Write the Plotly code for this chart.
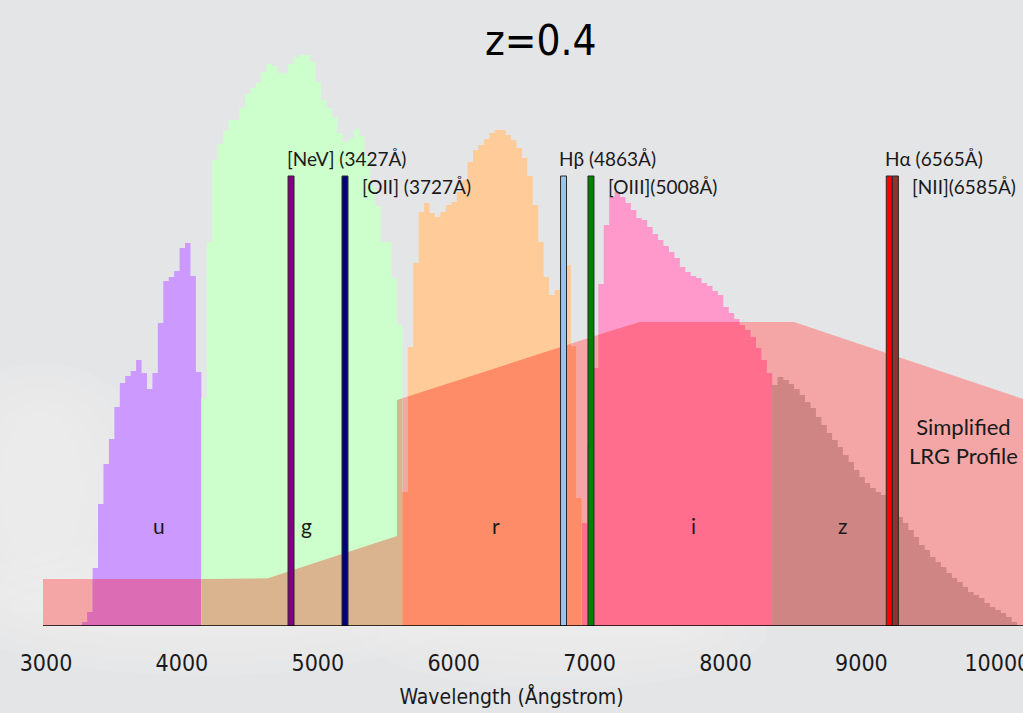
import numpy as np
import plotly.graph_objects as go

# ---------------- data ----------------
BIN_WIDTH = 40.0  # Angstrom per filter bin

u_start = 3263
u_vals = [4, 14, 58, 122, 162, 187, 219, 243, 250, 255, 266, 253, 237, 253,
          303, 345, 349, 355, 378, 383, 350, 254]

g_start = 4143
g_vals = [228, 384, 466, 482, 495, 506, 506, 518, 532, 538, 543, 554, 562, 560,
          553, 553, 562, 569, 571, 571, 564, 544, 526, 518, 509, 493, 484, 487,
          497, 490, 470, 440, 420, 384, 384, 348, 301]

r_start = 5622
r_vals = [134, 279, 363, 414, 423, 413, 409, 414, 421, 424, 434, 446, 464, 476,
          481, 487, 493, 496, 496, 491, 486, 478, 468, 450, 421, 384, 349, 331,
          336, 345, 361, 280, 128]

i_start = 6944
i_vals = [103, 180, 258, 342, 401, 429, 434, 429, 423, 416, 408, 406, 399, 392,
          386, 380, 374, 368, 359, 354, 350, 348, 343, 340, 335, 331, 319, 313,
          307, 301, 296, 289, 278, 266, 253]

z_start = 8344
z_vals = [241, 249, 246, 242, 237, 231, 224, 218, 209, 201, 193, 186, 179, 171,
          164, 156, 149, 143, 138, 134, 131, 125, 118, 109, 103, 96, 89, 81, 76,
          69, 64, 59, 53, 48, 44, 39, 34, 31, 28, 23, 19, 16, 13, 9, 4]

filter_names = ["u", "g", "r", "i", "z"]

# simplified LRG profile (piecewise linear, with 4000A break)
lrg_wave = [2978, 4617, 5583, 5583, 7356, 8504, 10189]
lrg_flux = [47, 47, 90, 226, 304, 304, 227]

# emission lines (observed wavelength at z=0.4)
line_labels = ["[NeV] (3427Å)", "[OII] (3727Å)", "Hβ (4863Å)",
               "[OIII](5008Å)", "Hα (6565Å)", "[NII](6585Å)"]
line_obs = [4803, 5200, 6808, 7010, 9205, 9250]
line_colors = ["#800080", "#000080", "#99C2EE", "#008000", "#FF0000", "#8E3232"]

x_ticks = [3000, 4000, 5000, 6000, 7000, 8000, 9000, 10000]

# ---------------- styling ----------------
alone_col = {"u": "#CC99FF", "g": "#CCFFCC", "r": "#FFCC99", "i": "#FF99CC", "z": "#D08585"}
over_col = {"u": "#DC6CB4", "g": "#DAB48F", "r": "#FF8C69", "i": "#FF6E8C", "z": "#D08585"}
lrg_col = "#F4A6A6"
BG = "#E4E5E7"
LABEL_FONT = "Lato, Open Sans, sans-serif"
COND_FONT = "DejaVu Sans Condensed, Liberation Sans Narrow, Roboto Condensed, Lato, sans-serif"

filters = {"u": (u_start, u_vals), "g": (g_start, g_vals), "r": (r_start, r_vals),
           "i": (i_start, i_vals), "z": (z_start, z_vals)}


def lrg_at(x):
    return np.interp(x, lrg_wave, lrg_flux, left=0.0, right=lrg_flux[-1])


def step_polygon(start, vals):
    xs, ys = [start], [0]
    for k, h in enumerate(vals):
        a = start + k * BIN_WIDTH
        b = a + BIN_WIDTH
        xs += [a, b]
        ys += [h, h]
    xs.append(start + len(vals) * BIN_WIDTH)
    ys.append(0)
    return xs, ys


def overlap_polygon(start, vals):
    xs, ys = [start], [0]
    for k, h in enumerate(vals):
        a = start + k * BIN_WIDTH
        b = a + BIN_WIDTH
        sx = np.linspace(a + 1e-3, b - 1e-3, 9)
        xs += list(sx)
        ys += list(np.minimum(h, lrg_at(sx)))
    xs.append(start + len(vals) * BIN_WIDTH)
    ys.append(0)
    return xs, ys


fig = go.Figure()

# LRG profile
lx = [lrg_wave[0]] + lrg_wave + [lrg_wave[-1]]
ly = [0] + lrg_flux + [0]
fig.add_trace(go.Scatter(x=lx, y=ly, fill="toself", fillcolor=lrg_col, mode="lines",
                         line=dict(width=0, color=lrg_col), name="Simplified LRG Profile",
                         hoverinfo="skip", showlegend=False))

for f in filter_names:
    st, vals = filters[f]
    xs, ys = step_polygon(st, vals)
    fig.add_trace(go.Scatter(x=xs, y=ys, fill="toself", fillcolor=alone_col[f], mode="lines",
                             line=dict(width=0, color=alone_col[f]), name=f,
                             hoverinfo="skip", showlegend=False))
    ox, oy = overlap_polygon(st, vals)
    fig.add_trace(go.Scatter(x=ox, y=oy, fill="toself", fillcolor=over_col[f], mode="lines",
                             line=dict(width=0, color=over_col[f]), name=f + " x LRG",
                             hoverinfo="skip", showlegend=False))

shapes = []
annotations = []

# soft cloud-like background patches
for cx0, cy0, cx1, cy1 in [(-0.08, 0.02, 0.16, 0.42), (-0.05, -0.08, 0.45, 0.14),
                           (0.35, -0.1, 0.75, 0.08)]:
    for s in range(5):
        d = s * 0.02
        shapes.append(dict(type="circle", xref="paper", yref="paper", layer="below",
                           x0=cx0 + d, x1=cx1 - d, y0=cy0 + d, y1=cy1 - d,
                           fillcolor="rgba(255,255,255,0.08)", line=dict(width=0)))

# emission lines
LINE_HALF = 22
for k, (lab, w, c) in enumerate(zip(line_labels, line_obs, line_colors)):
    shapes.append(dict(type="rect", xref="x", yref="y", x0=w - LINE_HALF, x1=w + LINE_HALF,
                       y0=0, y1=450, fillcolor=c, line=dict(color="#2A2A2A", width=1)))
    upper = (k % 2 == 0)
    annotations.append(dict(x=w - 45 if upper else w + 110, y=468 if upper else 440,
                            xref="x", yref="y", text=lab, showarrow=False,
                            xanchor="left", yanchor="middle",
                            font=dict(family=LABEL_FONT, size=19, color="#1A1A1A")))

# axis baseline
shapes.append(dict(type="line", xref="x", yref="y", x0=lrg_wave[0], x1=10189, y0=0, y1=0,
                   line=dict(color="black", width=1.5)))

# filter letters
for f, xw in zip(filter_names, [3831, 4920, 6311, 7768, 8865]):
    annotations.append(dict(x=xw, y=101, xref="x", yref="y", text=f, showarrow=False,
                            font=dict(family=LABEL_FONT, size=21, color="#1A1A1A")))

annotations.append(dict(x=9750, y=185, xref="x", yref="y",
                        text="Simplified<br>LRG Profile", showarrow=False,
                        font=dict(family=LABEL_FONT, size=22, color="#1A1A1A")))

annotations.append(dict(x=541 / 1023, y=586, xref="paper", yref="y", text="z=0.4",
                        showarrow=False, font=dict(family=COND_FONT, size=42, color="black")))

fig.update_layout(
    width=1023, height=713,
    margin=dict(l=0, r=0, t=0, b=87),
    paper_bgcolor=BG, plot_bgcolor=BG,
    shapes=shapes, annotations=annotations,
    showlegend=False,
    xaxis=dict(range=[2661.5, 10189], tickvals=x_ticks, ticktext=[str(t) for t in x_ticks],
               ticks="outside", ticklen=16, tickcolor="rgba(0,0,0,0)",
               ticklabeloverflow="allow",
               tickfont=dict(family=COND_FONT, size=23, color="#1A1A1A"),
               showgrid=False, zeroline=False, showline=False, automargin=False,
               title=dict(text="Wavelength (Ångstrom)", standoff=14,
                          font=dict(family=COND_FONT, size=21, color="#1A1A1A"))),
    yaxis=dict(range=[0, 626], visible=False, showgrid=False, zeroline=False),
)

fig.write_html("out.html", config={"displayModeBar": False},
               post_script="document.body.style.margin='0';")
